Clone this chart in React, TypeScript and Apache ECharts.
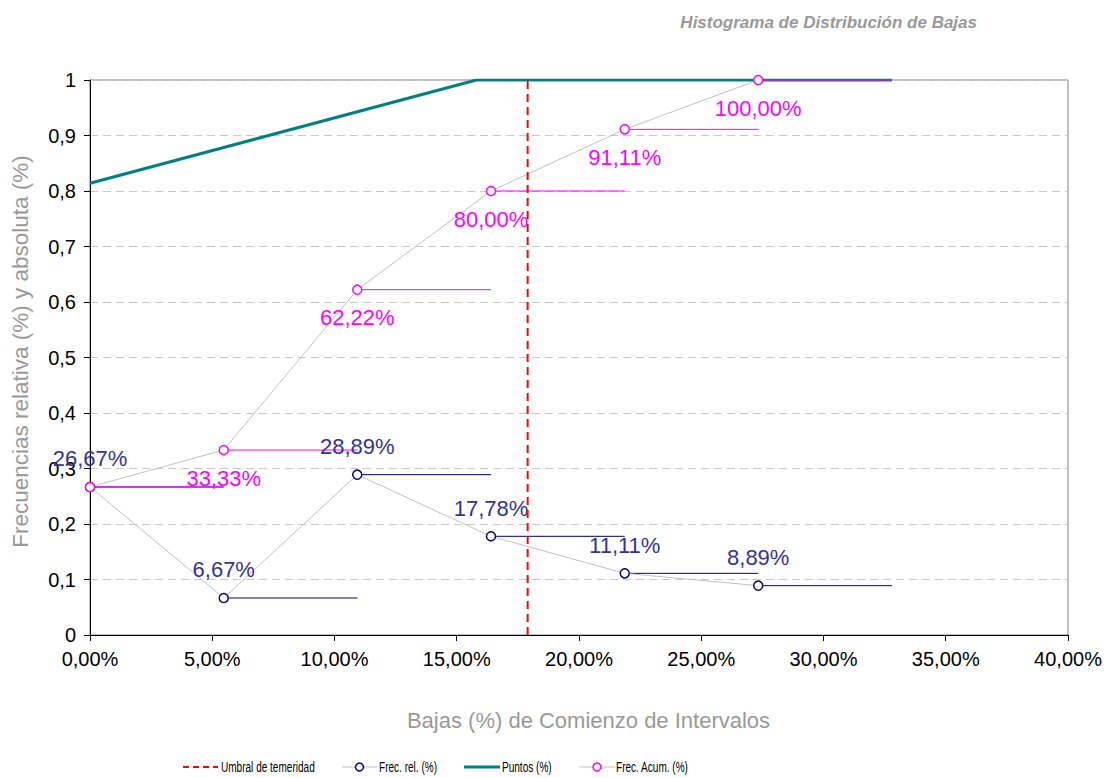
import React, { useEffect, useRef } from "react";
import * as echarts from "echarts";

const intervalStart = [0, 0.0547, 0.1093, 0.164, 0.2187, 0.2733];
const intervalWidth = 0.0547;
const frecRel = [0.2667, 0.0667, 0.2889, 0.1778, 0.1111, 0.0889];
const frecAcum = [0.2667, 0.3333, 0.6222, 0.8, 0.9111, 1.0];
const puntosX = [0, 0.158, 0.328];
const puntosY = [0.814, 1, 1];
const umbral = 0.179;
const legendNames = ["Umbral de temeridad", "Frec. rel. (%)", "Puntos (%)", "Frec. Acum. (%)"];

const FONT = "'Liberation Sans', Arial, sans-serif";
const pct = (v: number) => (v * 100).toFixed(2).replace(".", ",") + "%";

function steps(vals: number[]) {
  const out: any[] = [];
  vals.forEach((v, i) => {
    out.push([intervalStart[i], v]);
    out.push([intervalStart[i] + intervalWidth, v]);
    out.push([intervalStart[i] + intervalWidth, "-"]);
  });
  return out;
}

export default function App() {
  const ref = useRef<HTMLDivElement>(null);
  useEffect(() => {
    const chart = echarts.init(ref.current!, null, { renderer: "svg" });
    const ly = 767;
    const legendGraphic: any[] = [
      { type: "line", shape: { x1: 183, y1: ly, x2: 218, y2: ly }, style: { stroke: "#ff0000", lineWidth: 2, lineDash: [6, 4] } },
      { type: "text", x: 221, y: ly, scaleX: 0.67, style: { text: legendNames[0], fontSize: 15, fontFamily: FONT, fill: "#000", align: "left", verticalAlign: "middle" } },
      { type: "line", shape: { x1: 342, y1: ly, x2: 377, y2: ly }, style: { stroke: "#c0c0c0", lineWidth: 1 } },
      { type: "circle", shape: { cx: 359.5, cy: ly, r: 4 }, style: { fill: "#fff", stroke: "#000080", lineWidth: 1.5 } },
      { type: "text", x: 379, y: ly, scaleX: 0.67, style: { text: legendNames[1], fontSize: 15, fontFamily: FONT, fill: "#000", align: "left", verticalAlign: "middle" } },
      { type: "line", shape: { x1: 464, y1: ly, x2: 500, y2: ly }, style: { stroke: "#008080", lineWidth: 3 } },
      { type: "text", x: 502, y: ly, scaleX: 0.67, style: { text: legendNames[2], fontSize: 15, fontFamily: FONT, fill: "#000", align: "left", verticalAlign: "middle" } },
      { type: "line", shape: { x1: 579, y1: ly, x2: 615, y2: ly }, style: { stroke: "#c0c0c0", lineWidth: 1 } },
      { type: "circle", shape: { cx: 597, cy: ly, r: 4 }, style: { fill: "#fff", stroke: "#ff00ff", lineWidth: 1.5 } },
      { type: "text", x: 616, y: ly, scaleX: 0.67, style: { text: legendNames[3], fontSize: 15, fontFamily: FONT, fill: "#000", align: "left", verticalAlign: "middle" } },
    ];
    chart.setOption({
      animation: false,
      backgroundColor: "#fff",
      textStyle: { fontFamily: FONT },
      title: {
        text: "Histograma de Distribución de Bajas",
        right: 134,
        top: 9,
        textStyle: { fontSize: 17, fontStyle: "italic", fontWeight: "bold", color: "#999999", fontFamily: FONT },
      },
      graphic: legendGraphic,
      grid: { left: 90, right: 48, top: 80, bottom: 143, show: true, borderColor: "#808080", borderWidth: 1, backgroundColor: "transparent" },
      xAxis: {
        type: "value",
        min: 0,
        max: 0.4,
        interval: 0.05,
        name: "Bajas (%) de Comienzo de Intervalos",
        nameLocation: "middle",
        nameGap: 74,
        nameTextStyle: { fontSize: 22, color: "#999999", fontFamily: FONT, padding: [0, 0, 0, 19] },
        axisLine: { show: true, lineStyle: { color: "#000", width: 1 } },
        axisTick: { show: true, length: 6, lineStyle: { color: "#000" } },
        axisLabel: { formatter: (v: number) => pct(v), fontSize: 20, color: "#000", margin: 14, fontFamily: FONT },
        splitLine: { show: false },
      },
      yAxis: {
        type: "value",
        min: 0,
        max: 1,
        interval: 0.1,
        name: "Frecuencias relativa (%) y absoluta (%)",
        nameLocation: "middle",
        nameGap: 58,
        nameTextStyle: { fontSize: 22.5, color: "#999999", fontFamily: FONT, padding: [0, 0, 0, 12] },
        axisLine: { show: true, lineStyle: { color: "#000", width: 1 } },
        axisTick: { show: true, length: 6, lineStyle: { color: "#000" } },
        axisLabel: {
          formatter: (v: number) => (Math.round(v * 10) / 10).toString().replace(".", ","),
          fontSize: 20,
          color: "#000",
          margin: 14,
          fontFamily: FONT,
        },
        splitLine: { show: true, lineStyle: { color: "#c8c8c8", type: [8, 5], width: 1 } },
      },
      series: [
        {
          name: "Umbral de temeridad",
          type: "line",
          data: [[umbral, 0], [umbral, 1]],
          symbol: "none",
          lineStyle: { color: "#ff0000", width: 2, type: [8, 5] },
          z: 4,
        },
        {
          name: "Puntos (%)",
          type: "line",
          data: puntosX.map((x, i) => [x, puntosY[i]]),
          symbol: "none",
          lineStyle: { color: "#008080", width: 3 },
          z: 2,
        },
        {
          name: "stepRel",
          type: "line",
          data: steps(frecRel),
          symbol: "none",
          lineStyle: { color: "#000080", width: 1 },
          z: 2,
        },
        {
          name: "stepAcum",
          type: "line",
          data: steps(frecAcum),
          symbol: "none",
          lineStyle: { color: "#ff00ff", width: 1 },
          z: 2,
        },
        {
          name: "Frec. rel. (%)",
          type: "line",
          data: frecRel.map((v, i) => [intervalStart[i], v]),
          symbol: "circle",
          symbolSize: 9,
          showAllSymbol: true,
          lineStyle: { color: "#c0c0c0", width: 1 },
          itemStyle: { color: "#fff", borderColor: "#000080", borderWidth: 1.5 },
          label: {
            show: true,
            position: "top",
            distance: 12,
            formatter: (p: any) => pct(p.value[1]),
            fontSize: 22,
            color: "#333399",
            fontFamily: FONT,
          },
          z: 3,
        },
        {
          name: "Frec. Acum. (%)",
          type: "line",
          data: frecAcum.map((v, i) => ({ value: [intervalStart[i], v], label: { show: i !== 0 } })),
          symbol: "circle",
          symbolSize: 9,
          showAllSymbol: true,
          lineStyle: { color: "#c0c0c0", width: 1 },
          itemStyle: { color: "#fff", borderColor: "#ff00ff", borderWidth: 1.5 },
          label: {
            show: true,
            position: "bottom",
            distance: 12,
            formatter: (p: any) => pct(p.value[1]),
            fontSize: 22,
            color: "#ff00ff",
            fontFamily: FONT,
          },
          z: 3,
        },
      ],
    });
    return () => chart.dispose();
  }, []);
  return <div ref={ref} style={{ position: "fixed", left: 0, top: 0, width: 1116, height: 778 }} />;
}
